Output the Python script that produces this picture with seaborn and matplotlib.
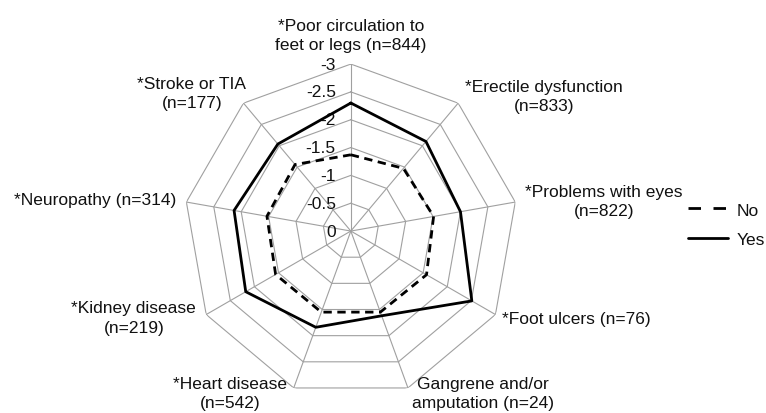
import numpy as np
import pandas as pd
import matplotlib.pyplot as plt
from matplotlib.lines import Line2D
import seaborn as sns

categories = [
    "*Poor circulation to\nfeet or legs (n=844)",
    "*Erectile dysfunction\n(n=833)",
    "*Problems with eyes\n(n=822)",
    "*Foot ulcers (n=76)",
    "Gangrene and/or\namputation (n=24)",
    "*Heart disease\n(n=542)",
    "*Kidney disease\n(n=219)",
    "*Neuropathy (n=314)",
    "*Stroke or TIA\n(n=177)",
]
no_vals = [1.37, 1.47, 1.51, 1.57, 1.55, 1.55, 1.56, 1.53, 1.56]
yes_vals = [2.30, 2.10, 2.00, 2.51, 1.62, 1.84, 2.18, 2.13, 2.04]
r_ticks = [0, 0.5, 1, 1.5, 2, 2.5, 3]
r_tick_labels = ["0", "-0.5", "-1", "-1.5", "-2", "-2.5", "-3"]

# label placement around the web: (ha, va, dx px, dy px) from each outer vertex
label_place = [
    ("center", "bottom", 0, 12),
    ("left", "center", 7, 7),
    ("left", "center", 10, 1),
    ("left", "center", 7, -4),
    ("left", "center", 4, -5),
    ("right", "center", -7, -5),
    ("right", "center", -10, -3),
    ("right", "center", -10, 3),
    ("right", "center", 3, 10),
]

FS = 12.5

n = len(categories)
theta = np.linspace(0, 2 * np.pi, n, endpoint=False)
theta_closed = np.append(theta, 2 * np.pi)

rows = []
for grp, vals in [("No", no_vals), ("Yes", yes_vals)]:
    closed = list(vals) + [vals[0]]
    for t, v in zip(theta_closed, closed):
        rows.append({"theta": t, "r": v, "group": grp})
df = pd.DataFrame(rows)

sns.set_style("white")
plt.rcParams["font.family"] = ["Liberation Sans", "DejaVu Sans"]

fig = plt.figure(figsize=(7.66, 4.14), dpi=100)
ax = fig.add_axes([0.240, 0.036, 0.436, 0.807], projection="polar")
ax.set_theta_zero_location("N")
ax.set_theta_direction(-1)
ax.set_ylim(0, 3)
ax.set_axis_off()

grid_col = "#a0a0a0"
# polygon rings and spokes
for r in r_ticks[1:]:
    ax.plot(theta_closed, [r] * (n + 1), color=grid_col, lw=0.8, zorder=1)
for t in theta:
    ax.plot([t, t], [0, 3], color=grid_col, lw=0.8, zorder=1)

for r, lab in zip(r_ticks, r_tick_labels):
    ax.annotate(lab, xy=(0, r), xytext=(-15, 0), textcoords="offset pixels",
                ha="right", va="center", fontsize=FS, color="#111111", zorder=2)

sns.lineplot(data=df, x="theta", y="r", hue="group", style="group",
             palette={"No": "black", "Yes": "black"},
             dashes={"No": (3, 2), "Yes": ""},
             sort=False, estimator=None, lw=2, legend=False, ax=ax, zorder=3)

for t, lab, (ha, va, dx, dy) in zip(theta, categories, label_place):
    ax.annotate(lab, xy=(t, 3), xytext=(dx, dy), textcoords="offset pixels",
                ha=ha, va=va, multialignment="center", fontsize=FS,
                linespacing=1.35, color="#111111", annotation_clip=False)

handles = [Line2D([], [], color="black", lw=2, dashes=(4.5, 4.5)),
           Line2D([], [], color="black", lw=2)]
leg = fig.legend(handles, ["No", "Yes"], loc="center left",
                 bbox_to_anchor=(688 / 766, 1 - 225.5 / 414), frameon=False,
                 fontsize=FS, handlelength=2.3, handletextpad=0.5,
                 labelspacing=0.8, borderpad=0, borderaxespad=0)
for txt in leg.get_texts():
    txt.set_color("#111111")

fig.savefig("out.png", dpi=100)
